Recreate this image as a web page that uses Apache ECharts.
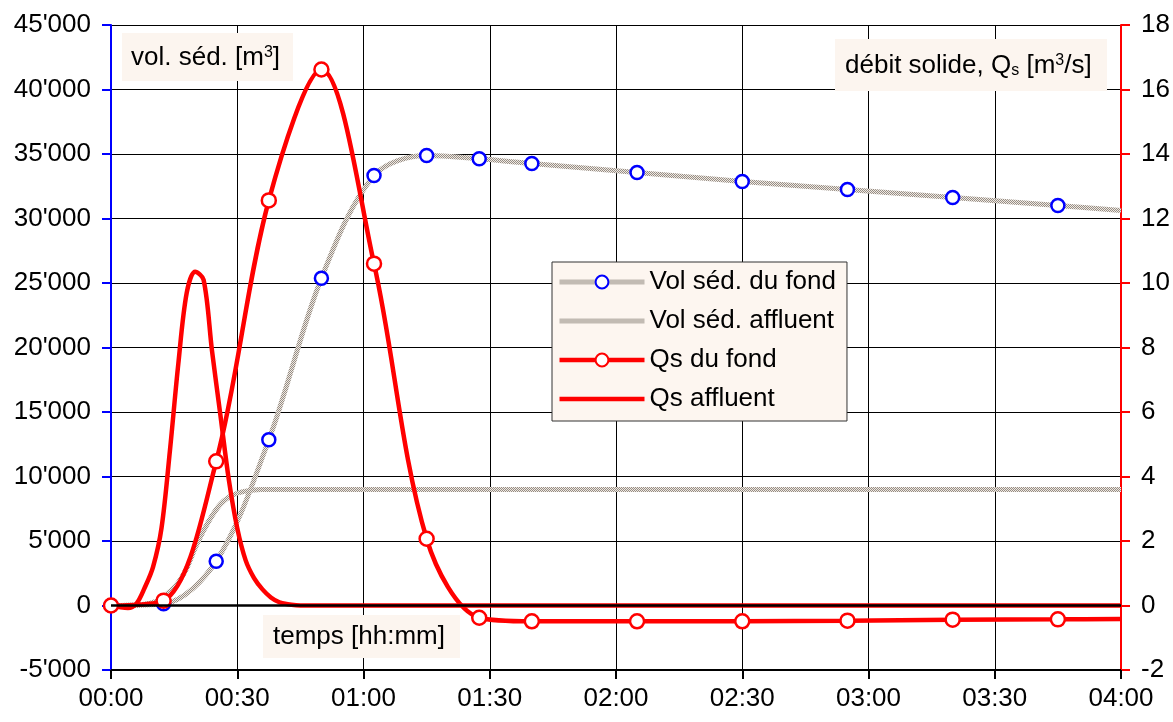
<!DOCTYPE html>
<html>
<head>
<meta charset="utf-8">
<script src="https://cdn.jsdelivr.net/npm/echarts@6/dist/echarts.min.js"></script>
<style>html,body{margin:0;padding:0;background:#fff}#c{width:1173px;height:722px}</style>
</head>
<body>
<div id="c"></div>
<script>
// ---- data (time in minutes) ----
const xTicks = [0, 30, 60, 90, 120, 150, 180, 210, 240];
const volLeftTicks = [-5000, 0, 5000, 10000, 15000, 20000, 25000, 30000, 35000, 40000, 45000];
const qsRightTicks = [-2, 0, 2, 4, 6, 8, 10, 12, 14, 16, 18];

const fondT   = [0, 12.5, 25, 37.5, 50, 62.5, 75, 87.5, 100, 125, 150, 175, 200, 225, 240];
const volFond = [0, 130, 3434, 12846, 25372, 33333, 34884, 34628, 34264, 33566, 32868, 32248, 31628, 31008, 30620];
const qsFond  = [0, 0.15, 4.47, 12.56, 16.62, 10.6, 2.07, -0.38, -0.49, -0.49, -0.49, -0.47, -0.44, -0.43, -0.42];

const affT   = [0, 2, 4, 6, 8, 10, 12, 14, 16, 18, 20, 22, 24, 26, 28, 30, 32, 34, 36, 38, 40, 42, 44, 46, 48, 50, 60, 90, 120, 150, 180, 210, 240];
const volAff = [0, 5, 10, 30, 100, 250, 560, 1100, 1780, 2900, 4450, 5800, 6950, 7850, 8400, 8700, 8870, 8960, 8990, 9000, 9000, 9000, 9000, 9000, 9000, 9000, 9000, 9000, 9000, 9000, 9000, 9000, 9000];
const qsAff  = [0, -0.05, -0.08, 0.05, 0.55, 1.2, 2.4, 4.8, 7.5, 9.7, 10.35, 10.1, 7.9, 5.9, 3.9, 2.4, 1.4, 0.85, 0.5, 0.25, 0.1, 0.04, 0.01, 0, 0, 0, 0, 0, 0, 0, 0, 0, 0];

const seriesNames = ['Vol séd. du fond', 'Vol séd. affluent', 'Qs du fond', 'Qs affluent'];

// ---- helpers ----
const FONT = "'Liberation Sans', Arial, sans-serif";
function thousands(v){ return String(v).replace(/\B(?=(\d{3})+(?!\d))/g, "'"); }
function hhmm(m){ const h = Math.floor(m/60), mm = m%60; return String(h).padStart(2,'0') + ':' + String(mm).padStart(2,'0'); }
function pairs(t, v, lastNoSymbol){
  return t.map((x,i)=>{
    if (lastNoSymbol && i === t.length-1) return {value:[x, v[i]], symbol:'none'};
    return [x, v[i]];
  });
}
function makePattern(){
  const c = document.createElement('canvas'); c.width = 2; c.height = 2;
  const g = c.getContext('2d');
  g.fillStyle = '#f1e9e1'; g.fillRect(0,0,2,2);
  g.fillStyle = '#948d86'; g.fillRect(0,0,1,1); g.fillRect(1,1,1,1);
  return c;
}
const greyPat = {image: makePattern(), repeat: 'repeat'};
const SM = 0.33;

const chart = echarts.init(document.getElementById('c'), null, {renderer:'canvas'});
const rich = {
  a:{fontSize:26, fontFamily:FONT, color:'#000'},
  sup:{fontSize:16, fontFamily:FONT, color:'#000', verticalAlign:'top'},
  sub:{fontSize:16, fontFamily:FONT, color:'#000', verticalAlign:'bottom'}
};
chart.setOption({
  animation:false,
  backgroundColor:'#fff',
  grid:{left:111, right:52, top:25, bottom:52, containLabel:false},
  textStyle:{fontFamily:FONT},
  legend:{
    orient:'vertical', left:552, top:262,
    data:[
      {name:seriesNames[0]},
      {name:seriesNames[1], itemStyle:{opacity:0}},
      {name:seriesNames[2]},
      {name:seriesNames[3], itemStyle:{opacity:0}}
    ],
    itemWidth:85, itemHeight:16, itemGap:13,
    lineStyle:{width:'inherit'},
    padding:[7, 11, 9, 5],
    backgroundColor:'#fdf6f0', borderColor:'#333', borderWidth:1,
    textStyle:{fontSize:26, fontFamily:FONT, color:'#000'}
  },
  xAxis:{
    type:'value', min:xTicks[0], max:xTicks[xTicks.length-1], interval:30,
    axisLine:{onZero:false, lineStyle:{color:'#000', width:2}},
    axisTick:{length:9, lineStyle:{color:'#000', width:2}},
    axisLabel:{fontSize:26, fontFamily:FONT, color:'#000', margin:16, formatter:hhmm},
    splitLine:{show:true, lineStyle:{color:'#000', width:1}}
  },
  yAxis:[{
    type:'value', min:volLeftTicks[0], max:volLeftTicks[volLeftTicks.length-1], interval:5000,
    axisLine:{show:true, lineStyle:{color:'#0000ff', width:2}},
    axisTick:{show:true, length:9, lineStyle:{color:'#0000ff', width:2}},
    axisLabel:{fontSize:26, fontFamily:FONT, color:'#000', margin:20, formatter:thousands},
    splitLine:{show:true, lineStyle:{color:'#000', width:1}}
  },{
    type:'value', position:'right', min:qsRightTicks[0], max:qsRightTicks[qsRightTicks.length-1], interval:2,
    axisLine:{show:true, lineStyle:{color:'#ff0000', width:2}},
    axisTick:{show:true, length:9, lineStyle:{color:'#ff0000', width:2}},
    axisLabel:{fontSize:26, fontFamily:FONT, color:'#000', margin:20},
    splitLine:{show:false}
  }],
  series:[
    {
      name:seriesNames[0], type:'line', yAxisIndex:0, smooth:SM,
      data:pairs(fondT, volFond, true),
      symbol:'circle', symbolSize:13,
      lineStyle:{color:greyPat, width:5},
      itemStyle:{color:'#fff', borderColor:'#0000ff', borderWidth:2.5},
      z:2
    },
    {
      name:seriesNames[1], type:'line', yAxisIndex:0, smooth:SM,
      data:pairs(affT, volAff, false),
      symbol:'none', showSymbol:false,
      lineStyle:{color:greyPat, width:5},
      itemStyle:{color:'#c8c0b8'},
      z:2
    },
    {
      name:seriesNames[2], type:'line', yAxisIndex:1, smooth:SM,
      data:pairs(fondT, qsFond, true),
      symbol:'circle', symbolSize:14,
      lineStyle:{color:'#ff0000', width:4.5},
      itemStyle:{color:'#fff', borderColor:'#ff0000', borderWidth:2.5},
      z:4
    },
    {
      name:seriesNames[3], type:'line', yAxisIndex:1, smooth:SM,
      data:pairs(affT, qsAff, false),
      symbol:'none', showSymbol:false,
      lineStyle:{color:'#ff0000', width:4.5},
      itemStyle:{color:'#ff0000'},
      z:3,
      markLine:{
        silent:true, symbol:'none', label:{show:false}, animation:false,
        lineStyle:{color:'#000', width:2.5, type:'solid'},
        data:[{yAxis:0}]
      }
    }
  ],
  graphic:[
    {type:'rect', left:122, top:33, shape:{width:171, height:48}, style:{fill:'#fcf5ef'}, z:10},
    {type:'text', x:131, y:58, z:11, style:{text:'{a|vol. séd. [m}{sup|3}{a|]}', rich:rich, verticalAlign:'middle', align:'left'}},
    {type:'rect', left:835, top:39, shape:{width:272, height:52}, style:{fill:'#fcf5ef'}, z:10},
    {type:'text', x:845, y:66, z:11, style:{text:'{a|débit solide, Q}{sub|s}{a| [m}{sup|3}{a|/s]}', rich:rich, verticalAlign:'middle', align:'left'}},
    {type:'rect', left:263, top:615, shape:{width:197, height:43}, style:{fill:'#fcf5ef'}, z:10},
    {type:'text', x:273, y:637, z:11, style:{text:'{a|temps [hh:mm]}', rich:rich, verticalAlign:'middle', align:'left'}}
  ]
});
</script>
</body>
</html>
